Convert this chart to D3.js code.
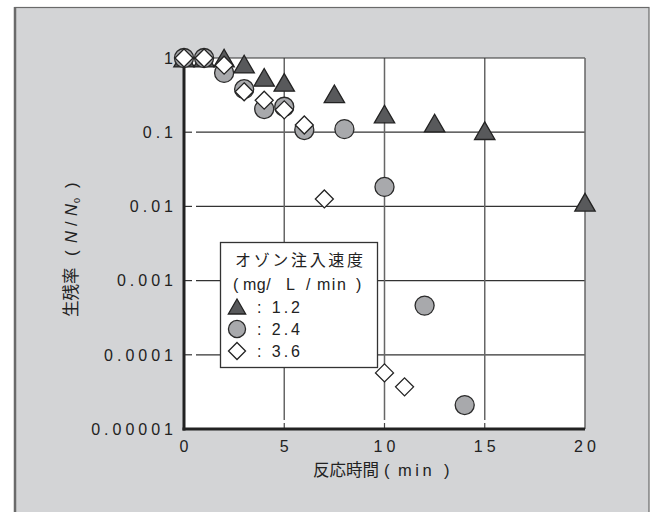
<!DOCTYPE html>
<html>
<head>
<meta charset="utf-8">
<script src="https://cdn.jsdelivr.net/npm/d3@7"></script>
<style>
  html, body { margin: 0; padding: 0; background: #ffffff; }
  svg { display: block; }
  text { font-family: "Liberation Sans", Arial, "Noto Sans CJK JP", sans-serif; fill: #222; }
  .jp { font-family: "Noto Sans CJK JP", "Liberation Sans", sans-serif; }
</style>
</head>
<body>
<svg id="chart" width="655" height="512"></svg>
<script>
// Survival ratio N/N0 vs. reaction time for three ozone injection rates
const xTicks = [0, 5, 10, 15, 20];
const xTickLabels = ["0", "5", "10", "15", "20"];
const yTicks = [1, 0.1, 0.01, 0.001, 0.0001, 0.00001];
const yTickLabels = ["1", "0.1", "0.01", "0.001", "0.0001", "0.00001"];

// ozone 1.2 mg/L/min
const t12 = [0, 1, 2, 3, 4, 5, 7.5, 10, 12.5, 15, 20];
const v12 = [1, 1, 1, 0.83, 0.55, 0.47, 0.33, 0.176, 0.133, 0.105, 0.0114];
// ozone 2.4 mg/L/min
const t24 = [0, 1, 2, 3, 4, 5, 6, 8, 10, 12, 14];
const v24 = [1, 1, 0.63, 0.38, 0.205, 0.22, 0.107, 0.11, 0.0183, 0.00046, 0.000021];
// ozone 3.6 mg/L/min
const t36 = [0, 1, 2, 3, 4, 5, 6, 7, 10, 11];
const v36 = [1, 1, 0.8, 0.35, 0.27, 0.2, 0.125, 0.0126, 0.000057, 0.000037];

const legendTitle = "オゾン注入速度";
const legendUnitParts = ["(", "mg/", "L", "/", "min", ")"];
const legendLabels = [": 1.2", ": 2.4", ": 3.6"];

const svg = d3.select("#chart");

// outer panel
svg.append("rect").attr("x", 15).attr("y", 7.5).attr("width", 634).attr("height", 520)
  .attr("fill", "#d3d4d6").attr("stroke", "#6a6a6a").attr("stroke-width", 1.2);
svg.append("line").attr("x1", 15).attr("x2", 15).attr("y1", 7).attr("y2", 512)
  .attr("stroke", "#6a6a6a").attr("stroke-width", 2.5);

const pLeft = 184, pRight = 585, pTop = 58, pBottom = 429;
const x = d3.scaleLinear().domain([0, 20]).range([pLeft, pRight]);
const y = d3.scaleLog().domain([0.00001, 1]).range([pBottom, pTop]);

// plot area
svg.append("rect").attr("x", pLeft).attr("y", pTop).attr("width", pRight - pLeft).attr("height", pBottom - pTop)
  .attr("fill", "#ffffff");

const g = svg.append("g");

// horizontal grid lines, with short inward ticks on the left axis
yTicks.filter(d => d < 1 && d > 0.00001).forEach(d => {
  g.append("line").attr("x1", pLeft + 12).attr("x2", pRight).attr("y1", y(d)).attr("y2", y(d))
    .attr("stroke", "#333").attr("stroke-width", 1.2);
  g.append("line").attr("x1", pLeft).attr("x2", pLeft + 8).attr("y1", y(d)).attr("y2", y(d))
    .attr("stroke", "#333").attr("stroke-width", 1.2);
});
// vertical grid lines, with short inward ticks on the bottom axis
xTicks.filter(d => d > 0 && d < 20).forEach(d => {
  g.append("line").attr("x1", x(d)).attr("x2", x(d)).attr("y1", pTop).attr("y2", pBottom - 9)
    .attr("stroke", "#666").attr("stroke-width", 1.5);
  g.append("line").attr("x1", x(d)).attr("x2", x(d)).attr("y1", pBottom - 6).attr("y2", pBottom)
    .attr("stroke", "#444").attr("stroke-width", 1.2);
});
// top and right frame
g.append("line").attr("x1", pLeft).attr("x2", pRight).attr("y1", pTop).attr("y2", pTop)
  .attr("stroke", "#333").attr("stroke-width", 1.2);
g.append("line").attr("x1", pRight).attr("x2", pRight).attr("y1", pTop).attr("y2", pBottom)
  .attr("stroke", "#666").attr("stroke-width", 1.5);
// main axes
g.append("line").attr("x1", pLeft).attr("x2", pLeft).attr("y1", pTop).attr("y2", pBottom + 1.5)
  .attr("stroke", "#222").attr("stroke-width", 3);
g.append("line").attr("x1", pLeft - 1.5).attr("x2", pRight).attr("y1", pBottom).attr("y2", pBottom)
  .attr("stroke", "#222").attr("stroke-width", 3);

// tick labels
const ls = 4;
yTicks.forEach((d, i) => {
  svg.append("text").attr("x", 173 + ls).attr("y", y(d)).attr("dy", "0.36em")
    .attr("text-anchor", "end").attr("font-size", 16).attr("letter-spacing", ls)
    .text(yTickLabels[i]);
});
xTicks.forEach((d, i) => {
  svg.append("text").attr("x", x(d) + ls / 2).attr("y", 452)
    .attr("text-anchor", "middle").attr("font-size", 16).attr("letter-spacing", ls)
    .text(xTickLabels[i]);
});

// x axis title
const xt = svg.append("text").attr("y", 476).attr("font-size", 16.5);
xt.append("tspan").attr("class", "jp").attr("x", 313).text("反応時間");
xt.append("tspan").attr("x", 384).text("(");
xt.append("tspan").attr("x", 398).attr("letter-spacing", 3.5).text("min");
xt.append("tspan").attr("x", 444).text(")");

// y axis title (rotated; x positions run along the reading direction)
const yt = svg.append("text").attr("transform", "translate(77,317) rotate(-90)").attr("font-size", 16.5);
yt.append("tspan").attr("class", "jp").attr("x", 0).text("生残率");
yt.append("tspan").attr("x", 61).text("(");
yt.append("tspan").attr("x", 74).attr("font-style", "italic").text("N");
yt.append("tspan").attr("x", 91).text("/");
yt.append("tspan").attr("x", 101).attr("font-style", "italic").text("N");
yt.append("tspan").attr("x", 114).attr("dy", 3).attr("font-size", 9).text("0");
yt.append("tspan").attr("x", 129).attr("dy", -3).text(")");

// markers
const tri = (s) => d3.symbol().type(d3.symbolTriangle).size(s)();
const diamondPath = (h) => `M0,${-h}L${h},0L0,${h}L${-h},0Z`;
// triangles are shifted so their bounding box is centred on the value
const styles = [
  { path: tri(180), fill: "#58595b", stroke: "#222", dy: 3 },
  { path: d3.symbol().type(d3.symbolCircle).size(285)(), fill: "#a8a9ac", stroke: "#2a2a2a", dy: 0 },
  { path: diamondPath(9), fill: "#ffffff", stroke: "#222", dy: 0 }
];

function drawSeries(ts, vs, st) {
  const pts = ts.map((t, i) => ({ t, v: vs[i] }));
  svg.append("g").selectAll("path").data(pts).join("path")
    .attr("d", st.path)
    .attr("transform", d => `translate(${x(d.t)},${y(d.v) + st.dy})`)
    .attr("fill", st.fill).attr("stroke", st.stroke).attr("stroke-width", 1.3);
}
drawSeries(t12, v12, styles[0]);
drawSeries(t24, v24, styles[1]);
drawSeries(t36, v36, styles[2]);

// legend
const lg = svg.append("g");
lg.append("rect").attr("x", 220.5).attr("y", 242.5).attr("width", 157).attr("height", 125)
  .attr("fill", "#ffffff").attr("stroke", "#333").attr("stroke-width", 1.3);
lg.append("text").attr("class", "jp").attr("x", 235).attr("y", 266).attr("font-size", 16)
  .attr("textLength", 128).attr("lengthAdjust", "spacing").text(legendTitle);
const unitX = [233, 243, 286, 306, 317, 356];
const unit = lg.append("text").attr("y", 290).attr("font-size", 16);
legendUnitParts.forEach((p, i) => {
  unit.append("tspan").attr("x", unitX[i]).attr("letter-spacing", p === "min" ? 1.5 : 0.5).text(p);
});
const ly = [307, 329, 351];
const lpaths = [tri(130), d3.symbol().type(d3.symbolCircle).size(230)(), diamondPath(8.5)];
legendLabels.forEach((lab, i) => {
  lg.append("path").attr("d", lpaths[i]).attr("transform", `translate(237,${ly[i] + (i === 0 ? 2 : 0)})`)
    .attr("fill", styles[i].fill).attr("stroke", styles[i].stroke).attr("stroke-width", 1.3);
  lg.append("text").attr("x", 257).attr("y", ly[i]).attr("dy", "0.36em").attr("font-size", 16)
    .attr("textLength", 43).attr("lengthAdjust", "spacing").text(lab);
});
</script>
</body>
</html>
